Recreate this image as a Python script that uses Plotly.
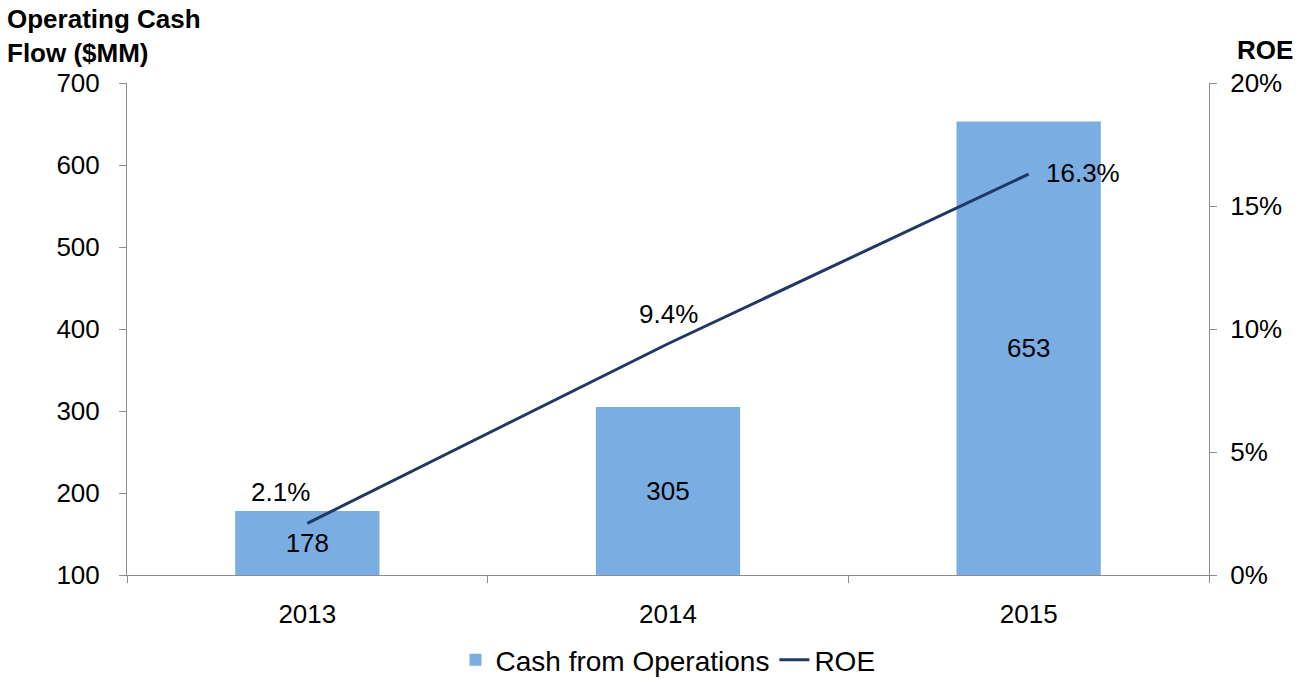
import plotly.graph_objects as go

years = ["2013", "2014", "2015"]
cash_from_ops = [178, 305, 653]          # $MM
roe = [0.021, 0.094, 0.163]              # fraction
roe_labels = ["2.1%", "9.4%", "16.3%"]
# pixel offsets of each ROE label from its point
roe_label_shift = [(-27, 31), (0, 30), (54, 1)]

font_family = "Liberation Sans, Arial, sans-serif"
axis_color = "#8c8c8c"
fs = 26

fig = go.Figure()

fig.add_trace(go.Bar(
    x=years, y=[v - 100 for v in cash_from_ops], base=100,
    name="Cash from Operations",
    marker=dict(color="#7aade2", line=dict(width=0)),
    width=0.4,
    text=[str(v) for v in cash_from_ops],
    textposition="inside", insidetextanchor="middle",
    textfont=dict(color="black", size=fs, family=font_family),
    hoverinfo="skip",
))

fig.add_trace(go.Scatter(
    x=years, y=roe, name="ROE", yaxis="y2",
    mode="lines",
    line=dict(color="#1f3864", width=3),
))

annotations = [
    dict(text="<b>Operating Cash<br>Flow ($MM)</b>", xref="paper", yref="paper",
         x=-122 / 1082, y=1.0 + 81 / 492, xanchor="left", yanchor="top", align="left",
         showarrow=False, font=dict(size=26)),
    dict(text="<b>ROE</b>", xref="paper", yref="paper",
         x=1.0 + 86 / 1082, y=1.0 + 50 / 492, xanchor="right", yanchor="top",
         showarrow=False, font=dict(size=26)),
]
# category axis: annotation x is the category's serial index
for i, (val, lab, (dx, dy)) in enumerate(zip(roe, roe_labels, roe_label_shift)):
    annotations.append(dict(
        x=i, y=val, xref="x", yref="y2", text=lab, showarrow=False,
        xshift=dx, yshift=dy, font=dict(size=fs, color="black"),
    ))

fig.update_layout(
    width=1300, height=679,
    margin=dict(l=127, r=91, t=83, b=104, autoexpand=False),
    plot_bgcolor="white", paper_bgcolor="white",
    font=dict(family=font_family, size=fs, color="black"),
    showlegend=True,
    legend=dict(orientation="h", x=0.5, xanchor="center", y=-85 / 492, yanchor="middle",
                font=dict(size=28), itemwidth=30, tracegroupgap=0),
    bargap=0.6,
    xaxis=dict(
        type="category", showgrid=False, showline=True, linecolor=axis_color, linewidth=1,
        ticks="outside", tickson="boundaries", ticklen=7, tickcolor=axis_color,
        tickfont=dict(size=fs), range=[-0.5, 2.5], automargin=False,
        ticklabelstandoff=16,
    ),
    yaxis=dict(
        range=[100, 700], dtick=100, showgrid=False, showline=True, linecolor=axis_color,
        ticks="outside", ticklen=7, tickcolor=axis_color, tickfont=dict(size=fs),
        zeroline=False, automargin=False, ticklabelstandoff=14,
    ),
    yaxis2=dict(
        overlaying="y", side="right", range=[0, 0.2], dtick=0.05, tickformat=".0%",
        showgrid=False, showline=True, linecolor=axis_color,
        ticks="outside", ticklen=7, tickcolor=axis_color, tickfont=dict(size=fs),
        zeroline=False, automargin=False, ticklabelstandoff=8,
    ),
    annotations=annotations,
)

fig.write_html("out.html")
